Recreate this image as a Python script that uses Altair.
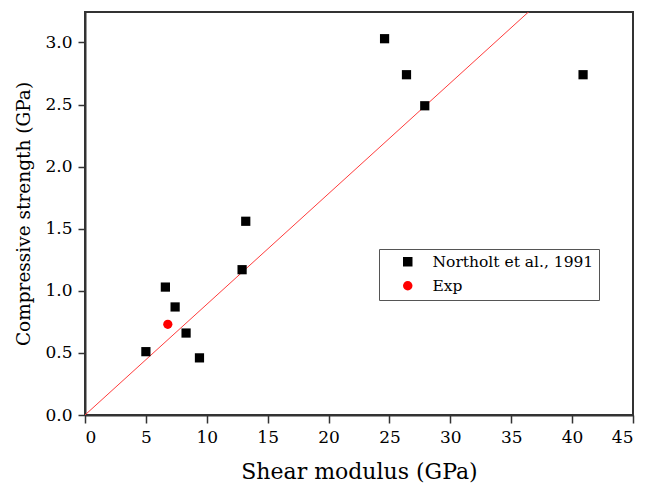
import altair as alt
import pandas as pd

# Data
northolt_shear = [5.0, 6.6, 7.4, 8.3, 9.4, 12.9, 13.2, 24.6, 26.4, 27.9, 40.9]
northolt_strength = [0.51, 1.03, 0.87, 0.66, 0.46, 1.17, 1.56, 3.03, 2.74, 2.49, 2.74]
exp_shear = [6.8]
exp_strength = [0.73]
fit_x = [0, 45]
fit_y = [0, 4.01]
series_names = ["Northolt et al., 1991", "Exp"]
series_colors = ["#000000", "#ff0000"]
series_shapes = ["square", "circle"]
x_tick_values = [0, 2.5, 5, 7.5, 10, 12.5, 15, 17.5, 20, 22.5, 25, 27.5, 30, 32.5, 35, 37.5, 40, 42.5, 45]
y_tick_values = [0, 0.25, 0.5, 0.75, 1.0, 1.25, 1.5, 1.75, 2.0, 2.25, 2.5, 2.75, 3.0]

pts = pd.DataFrame({
    "x": northolt_shear + exp_shear,
    "y": northolt_strength + exp_strength,
    "series": [series_names[0]] * len(northolt_shear) + [series_names[1]] * len(exp_shear),
})
fit = pd.DataFrame({"x": fit_x, "y": fit_y})

FONT = "DejaVu Serif"

x_axis = alt.Axis(
    values=x_tick_values,
    labelExpr="datum.value % 5 === 0 ? datum.label : ''",
    tickSize={"condition": {"test": "datum.value % 5 === 0", "value": 8}, "value": 5},
    title="Shear modulus (GPa)",
    grid=False,
    labelFont=FONT, labelFontSize=17, labelPadding=6,
    titleFont=FONT, titleFontSize=22, titlePadding=16,
)
y_axis = alt.Axis(
    values=y_tick_values,
    labelExpr="datum.value % 0.5 === 0 ? format(datum.value, '.1f') : ''",
    tickSize={"condition": {"test": "datum.value % 0.5 === 0", "value": 7}, "value": 4},
    title="Compressive strength (GPa)",
    grid=False,
    labelFont=FONT, labelFontSize=17, labelPadding=6,
    titleFont=FONT, titleFontSize=18.5, titlePadding=11,
)

xs = alt.Scale(domain=[0, 45], nice=False, zero=False)
ys = alt.Scale(domain=[0, 3.245], nice=False, zero=False)

line = alt.Chart(fit).mark_line(color="#ff3c3c", strokeWidth=1, clip=True).encode(
    x=alt.X("x:Q", scale=xs, axis=x_axis),
    y=alt.Y("y:Q", scale=ys, axis=y_axis),
)

leg = alt.Legend(
    title=None, orient="none", legendX=294, legendY=237,
    fillColor="white", strokeColor="#555555",
    padding=5, symbolOffset=16, labelOffset=17, rowPadding=7,
    labelFont=FONT, labelFontSize=15.5, labelColor="black",
    symbolSize=90, symbolStrokeWidth=0, labelLimit=400,
)

points = alt.Chart(pts).mark_point(filled=True, opacity=1, size=85).encode(
    x=alt.X("x:Q", scale=xs),
    y=alt.Y("y:Q", scale=ys),
    color=alt.Color("series:N", scale=alt.Scale(domain=series_names, range=series_colors), legend=leg),
    shape=alt.Shape("series:N", scale=alt.Scale(domain=series_names, range=series_shapes), legend=leg),
)

chart = alt.layer(line, points).properties(
    width=548, height=403,
    autosize=alt.AutoSizeParams(type="none"),
    padding={"left": 77, "top": 4, "right": 5, "bottom": 74},
).configure(
    font=FONT,
).configure_view(
    stroke="#333333", strokeWidth=2,
).configure_axis(
    domainColor="#333333", domainWidth=2,
    tickColor="#333333", tickWidth=1.5,
    labelColor="black",
    titleFontWeight="normal", titleColor="black",
)

chart.save("out.html", embed_options={"renderer": "svg", "actions": False})
